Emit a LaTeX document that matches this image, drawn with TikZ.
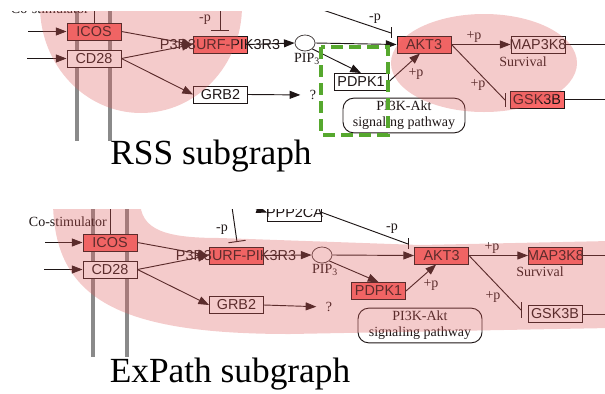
\documentclass[tikz,border=0pt]{standalone}
\usepackage{fontspec}
\setmainfont{Liberation Serif}
\setsansfont{Liberation Sans}
\usepackage{tikz}
\usetikzlibrary{arrows.meta,positioning,calc,shapes.geometric}

\definecolor{genered}{RGB}{250,104,104}
\definecolor{hlpink}{RGB}{222,92,92}
\definecolor{bargray}{RGB}{138,138,138}
\definecolor{rssgreen}{RGB}{86,168,46}
\definecolor{ink}{RGB}{30,22,22}

\newcommand{\gtxt}[1]{\makebox[0pt]{#1}}

\begin{document}
\begin{tikzpicture}[x=0.75pt, y=-0.75pt, >={Triangle[length=8pt,width=6pt]},
  gene/.style={draw=ink, line width=0.7pt, fill=white, minimum width=40.5pt,
    minimum height=12.75pt, inner sep=0pt,
    font=\sffamily\fontsize{10.8}{12}\selectfont, text=ink},
  hit/.style={gene, fill=genered},
  lbl/.style={font=\fontsize{10.5}{12}\selectfont, text=ink, inner sep=0pt},
  link/.style={draw=ink, line width=0.7pt},
  pip/.style={ellipse, draw=ink!80, line width=0.6pt, fill=white,
    minimum width=15pt, minimum height=12pt, inner sep=0pt},
  pwbox/.style={draw=ink, line width=0.7pt, rounded corners=8pt,
    minimum width=91.5pt, minimum height=26pt, align=center,
    font=\fontsize{10.5}{12}\selectfont, text=ink, inner sep=0pt},
  membrane/.style={bargray, line width=3pt},
  hl/.style={fill=hlpink, fill opacity=0.32},
  title/.style={font=\fontsize{26.5}{30}\selectfont, inner sep=0pt}]

  \useasboundingbox (0,0) rectangle (605,393);

  % ---------- верхний фрагмент (RSS) ----------
  \begin{scope}
    \clip (0,11) rectangle (605,141);
    % мембрана
    \draw[membrane] (77,0) -- (77,141);
    \draw[membrane] (110,0) -- (110,141);

    \node[hit]  (rICOS) at (94,31.5) {\gtxt{ICOS}};
    \node[gene] (rCD28) at (94,58.5) {\gtxt{CD28}};
    \node[lbl, anchor=east] (rCostim) at (89,9) {Co-stimulator};
    \draw[link] (rICOS.north) -- ++(0,-25);
    \coordinate (rinI) at (28,31.5);
    \coordinate (rinC) at (27,58.5);
    \draw[link,->] (rinI) -- (rICOS);
    \draw[link,->] (rinC) -- (rCD28);

    \node[hit]  (rPIK) at (220,44.5) {\gtxt{P3R3URF-PIK3R3}};
    \node[gene] (rGRB) at (220.5,94.5) {\gtxt{GRB2}};
    \draw[link,->] (rICOS.east) -- (rPIK.west);
    \draw[link,->] (rCD28.east) -- (rPIK.west);
    \draw[link,->] (rCD28.east) -- (rGRB.west);

    % -p на PIK3R3
    \coordinate (rpkin) at (220,5);
    \coordinate (rpkbar) at (220,31);
    \draw[link,-{Bar[width=13pt]}] (rpkin) -- (rpkbar);
    \node[lbl] (rmp1) at (205,20) {-p};

    \node[pip] (rPIP) at (305,43) {};
    \node[lbl] (rPIPl) at (307,59) {PIP\textsubscript{3}};
    \draw[link,->] (rPIK.east) -- (rPIP.west);

    \node[hit] (rAKT) at (424,44.5) {\gtxt{AKT3}};
    \draw[link,->] (rPIP.east) -- (rAKT.west);
    \coordinate (rppin) at (320,9);
    \coordinate (rakbar) at (391,33);
    \draw[link] (rppin) -- (rakbar);
    \draw[link] ($(rakbar)+(0,-6)$) -- ($(rakbar)+(0,5)$);
    \node[lbl] (rmp2) at (375,19) {-p};

    \node[gene] (rMAP) at (538,44.5) {\gtxt{MAP3K8}};
    \draw[link,->] (rAKT.east) -- (rMAP.west);
    \node[lbl] (rpp1) at (474,37) {+p};
    \node[lbl] (rsurv) at (523,62) {Survival};
    \coordinate (rMAPout) at (610,44.5);
    \draw[link] (rMAP.east) -- (rMAPout);

    \node[hit] (rGSK) at (537,99.5) {\gtxt{GSK3B}};
    \coordinate (rgkbar) at (505,100);
    \draw[link] (rAKT.east) -- (rgkbar);
    \draw[link] ($(rgkbar)+(0,-7)$) -- ($(rgkbar)+(0,7)$);
    \node[lbl] (rpp2) at (478,85) {+p};
    \coordinate (rGSKout) at (610,99.5);
    \draw[link] (rGSK.east) -- (rGSKout);

    \node[gene] (rPDK) at (361,82) {\gtxt{PDPK1}};
    \draw[link,->] (rPIP.south east) -- (rPDK.north);
    \draw[link,->] (rPDK.east) -- ([xshift=-3pt]rAKT.south);
    \node[lbl] (rpp3) at (416,74) {+p};

    \node[pwbox] (rPW) at (404,115.5) {PI3K-Akt\\signaling pathway};

    \node[lbl] (rq) at (313,95) {?};
    \draw[link,->,shorten >=7pt] (rGRB.east) -- (rq.west);

    % выделение
    \fill[hl] (141,6) ellipse [x radius=101, y radius=107];
    \fill[hl] (484,63) ellipse [x radius=93, y radius=49];
    % рамка
    \draw[rssgreen, line width=3pt, dash pattern=on 9pt off 4.5pt]
      (321,47) rectangle (388,135);
  \end{scope}
  \node[title] (rss) at (211,156) {RSS subgraph};

  % ---------- нижний фрагмент (ExPath) ----------
  \begin{scope}
    \clip (0,209) rectangle (605,357);
    \draw[membrane] (93,200) -- (93,357);
    \draw[membrane] (127,200) -- (127,357);

    \node[hit]  (eICOS) at (110,242.5) {\gtxt{ICOS}};
    \node[gene] (eCD28) at (110,269.5) {\gtxt{CD28}};
    \node[lbl, anchor=east] (eCostim) at (107,222) {Co-stimulator};
    \draw[link] (eICOS.north) -- ++(0,-40);
    \coordinate (einI) at (45,242.5);
    \coordinate (einC) at (44,269.5);
    \draw[link,->] (einI) -- (eICOS);
    \draw[link,->] (einC) -- (eCD28);

    \node[hit]  (ePIK) at (236,255.5) {\gtxt{P3R3URF-PIK3R3}};
    \node[gene] (eGRB) at (236.5,305) {\gtxt{GRB2}};
    \draw[link,->] (eICOS.east) -- (ePIK.west);
    \draw[link,->] (eCD28.east) -- (ePIK.west);
    \draw[link,->] (eCD28.east) -- (eGRB.west);

    \coordinate (epkin) at (231,200);
    \coordinate (epkbar) at (237,242);
    \draw[link,-{Bar[width=13pt]}] (epkin) -- (epkbar);
    \node[lbl] (emp1) at (222,230) {-p};

    \node[gene] (ePPP) at (294.5,212.5) {\gtxt{PPP2CA}};
    \coordinate (eppin) at (245,205);
    \draw[link,->] (eppin) -- (ePPP.west);

    \node[pip] (ePIP) at (322,255) {};
    \node[lbl] (ePIPl) at (325,270) {PIP\textsubscript{3}};
    \draw[link,->] (ePIK.east) -- (ePIP.west);

    \node[hit] (eAKT) at (441.5,255.5) {\gtxt{AKT3}};
    \draw[link,->] (ePIP.east) -- (eAKT.west);
    \coordinate (eakbar) at (408,244);
    \draw[link] (ePPP.east) -- (eakbar);
    \draw[link] ($(eakbar)+(0,-6)$) -- ($(eakbar)+(0,5)$);
    \node[lbl] (emp2) at (392,229) {-p};

    \node[hit] (eMAP) at (555.5,255.5) {\gtxt{MAP3K8}};
    \draw[link,->] (eAKT.east) -- (eMAP.west);
    \node[lbl] (epp1) at (492,248) {+p};
    \node[lbl] (esurv) at (540,272) {Survival};
    \coordinate (eMAPout) at (610,255.5);
    \draw[link] (eMAP.east) -- (eMAPout);

    \node[gene] (eGSK) at (555,314) {\gtxt{GSK3B}};
    \coordinate (egkbar) at (521,310);
    \draw[link] (eAKT.east) -- (egkbar);
    \draw[link] ($(egkbar)+(0,-8)$) -- ($(egkbar)+(0,8)$);
    \node[lbl] (epp2) at (493,297) {+p};
    \coordinate (eGSKout) at (610,314);
    \draw[link] (eGSK.east) -- (eGSKout);

    \node[hit] (ePDK) at (378.5,291) {\gtxt{PDPK1}};
    \draw[link,->] (ePIP.south east) -- (ePDK.north);
    \draw[link,->] (ePDK.east) -- ([xshift=-4pt]eAKT.south);
    \node[lbl] (epp3) at (431,285) {+p};

    \node[pwbox, minimum width=93pt] (ePW) at (420,325.5) {PI3K-Akt\\signaling pathway};

    \node[lbl] (eq) at (329,307) {?};
    \draw[link,->,shorten >=7pt] (eGRB.east) -- (eq.west);

    % выделение
    \fill[hl] (53,200) .. controls (53,300) and (120,334) .. (290,334)
      -- (610,328) -- (610,241) -- (420,245) -- (220,238)
      .. controls (165,238) and (140,230) .. (140,200) -- cycle;
  \end{scope}
  \node[title] (expath) at (230,374) {ExPath subgraph};
\end{tikzpicture}
\end{document}
